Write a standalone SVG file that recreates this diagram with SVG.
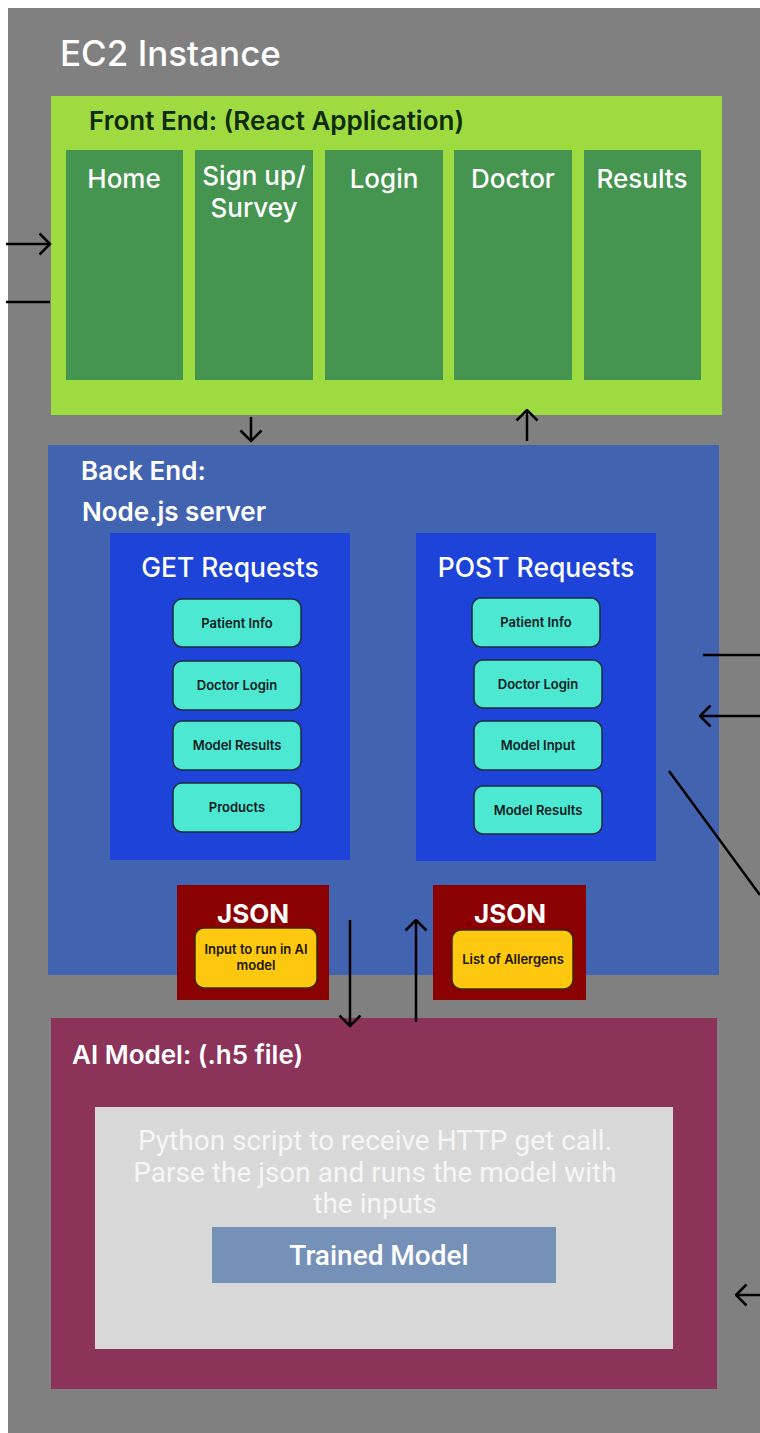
<svg xmlns="http://www.w3.org/2000/svg" width="760" height="1433" viewBox="0 0 760 1433">
<defs>
<style>
.t{font-family:Inter,"Noto Sans","Liberation Sans",sans-serif}
.w{fill:#ffffff}
.h{font-size:26px;font-weight:500;fill:#ffffff;text-anchor:middle}
.rq{font-size:26.5px;font-weight:500;fill:#ffffff;text-anchor:middle}
.btn{fill:#4de8d2;stroke:#1c2c3c;stroke-width:1.5}
.bt{font-size:13px;font-weight:600;fill:#0d1a22;text-anchor:middle}
.page{fill:#459450}
.yel{fill:#fdc80f;stroke:#3a2a00;stroke-width:1.5}
.yt{font-size:13px;font-weight:600;fill:#1a1400;text-anchor:middle}
.ln{stroke:#000;stroke-width:2.5;fill:none}
.py{font-family:Roboto,"Noto Sans","Liberation Sans",sans-serif;font-size:28px;font-weight:400;fill:#f6f6f6;text-anchor:middle}
</style>
<marker id="ah" viewBox="0 0 14 24" refX="12.5" refY="12" markerWidth="14" markerHeight="24" markerUnits="userSpaceOnUse" orient="auto">
<path d="M2,1.5 L12.5,12 L2,22.5" fill="none" stroke="#000" stroke-width="2.5"/>
</marker>
</defs>
<rect x="0" y="0" width="760" height="1433" fill="#ffffff"/>
<g id="ec2">
<rect x="8" y="8" width="752" height="1425" fill="#808080"/>
<text class="t w" x="60" y="66" font-size="35" font-weight="500">EC2 Instance</text>
</g>
<g id="frontend">
<rect x="51" y="96" width="671" height="319" fill="#9edb41"/>
<text class="t" x="89" y="130" font-size="26" font-weight="600" fill="#0f2a0c">Front End: (React Application)</text>
</g>
<g id="page-home"><rect class="page" x="66" y="150" width="117" height="230"/><text class="t h" x="124" y="188">Home</text></g>
<g id="page-signup"><rect class="page" x="195" y="150" width="118" height="230"/><text class="t h" x="254" y="185">Sign up/</text><text class="t h" x="254" y="217">Survey</text></g>
<g id="page-login"><rect class="page" x="325" y="150" width="118" height="230"/><text class="t h" x="384" y="188">Login</text></g>
<g id="page-doctor"><rect class="page" x="454" y="150" width="118" height="230"/><text class="t h" x="513" y="188">Doctor</text></g>
<g id="page-results"><rect class="page" x="584" y="150" width="117" height="230"/><text class="t h" x="642" y="188">Results</text></g>
<g id="backend">
<rect x="48" y="445" width="671" height="530" fill="#4263b0"/>
<text class="t w" x="81" y="480" font-size="26" font-weight="600">Back End:</text>
<text class="t w" x="82" y="521" font-size="26" font-weight="600">Node.js server</text>
</g>
<g id="get-requests">
<rect x="110" y="533" width="240" height="327" fill="#1d43d8"/>
<text class="t rq" x="230" y="577">GET Requests</text>
<rect class="btn" x="173" y="599" width="128" height="48" rx="9"/><text class="t bt" x="237" y="628">Patient Info</text>
<rect class="btn" x="173" y="661" width="128" height="49" rx="9"/><text class="t bt" x="237" y="690">Doctor Login</text>
<rect class="btn" x="173" y="721" width="128" height="49" rx="9"/><text class="t bt" x="237" y="750">Model Results</text>
<rect class="btn" x="173" y="783" width="128" height="49" rx="9"/><text class="t bt" x="237" y="812">Products</text>
</g>
<g id="post-requests">
<rect x="416" y="533" width="240" height="328" fill="#1d43d8"/>
<text class="t rq" x="536" y="577">POST Requests</text>
<rect class="btn" x="472" y="598" width="128" height="49" rx="9"/><text class="t bt" x="536" y="627">Patient Info</text>
<rect class="btn" x="474" y="660" width="128" height="48" rx="9"/><text class="t bt" x="538" y="689">Doctor Login</text>
<rect class="btn" x="474" y="721" width="128" height="49" rx="9"/><text class="t bt" x="538" y="750">Model Input</text>
<rect class="btn" x="474" y="786" width="128" height="48" rx="9"/><text class="t bt" x="538" y="815">Model Results</text>
</g>
<g id="json-input">
<rect x="177" y="885" width="152" height="115" fill="#8b0000"/>
<text class="t w" x="253" y="923" font-size="26" font-weight="700" text-anchor="middle">JSON</text>
<rect class="yel" x="195" y="928" width="122" height="60" rx="9"/>
<text class="t yt" x="256" y="954">Input to run in AI</text>
<text class="t yt" x="256" y="970">model</text>
</g>
<g id="json-output">
<rect x="433" y="885" width="153" height="115" fill="#8b0000"/>
<text class="t w" x="510" y="923" font-size="26" font-weight="700" text-anchor="middle">JSON</text>
<rect class="yel" x="452" y="930" width="121" height="59" rx="9"/>
<text class="t yt" x="513" y="964">List of Allergens</text>
</g>
<g id="ai-model">
<rect x="51" y="1018" width="666" height="371" fill="#8b3359"/>
<text class="t w" x="72" y="1064" font-size="26" font-weight="600">AI Model: (.h5 file)</text>
<rect x="95" y="1107" width="578" height="242" fill="#d9d9d9"/>
<text class="py" x="375" y="1150">Python script to receive HTTP get call.</text>
<text class="py" x="375" y="1182">Parse the json and runs the model with</text>
<text class="py" x="375" y="1213">the inputs</text>
</g>
<g id="trained-model">
<rect x="212" y="1227" width="344" height="56" fill="#7691b8"/>
<text class="py" x="379" y="1265" style="fill:#ffffff;font-weight:500">Trained Model</text>
</g>
<g id="connectors">
<line class="ln" x1="6" y1="244" x2="50" y2="244" marker-end="url(#ah)"/>
<line class="ln" x1="6" y1="302" x2="50" y2="302"/>
<line class="ln" x1="251" y1="417" x2="251" y2="441" marker-end="url(#ah)"/>
<line class="ln" x1="527" y1="441" x2="527" y2="410" marker-end="url(#ah)"/>
<line class="ln" x1="703" y1="655" x2="760" y2="655"/>
<line class="ln" x1="760" y1="716" x2="700" y2="716" marker-end="url(#ah)"/>
<line class="ln" x1="669" y1="771" x2="760" y2="895"/>
<line class="ln" x1="350" y1="920" x2="350" y2="1026" marker-end="url(#ah)"/>
<line class="ln" x1="416" y1="1022" x2="416" y2="920" marker-end="url(#ah)"/>
<line class="ln" x1="760" y1="1295" x2="736" y2="1295" marker-end="url(#ah)"/>
</g>
</svg>
